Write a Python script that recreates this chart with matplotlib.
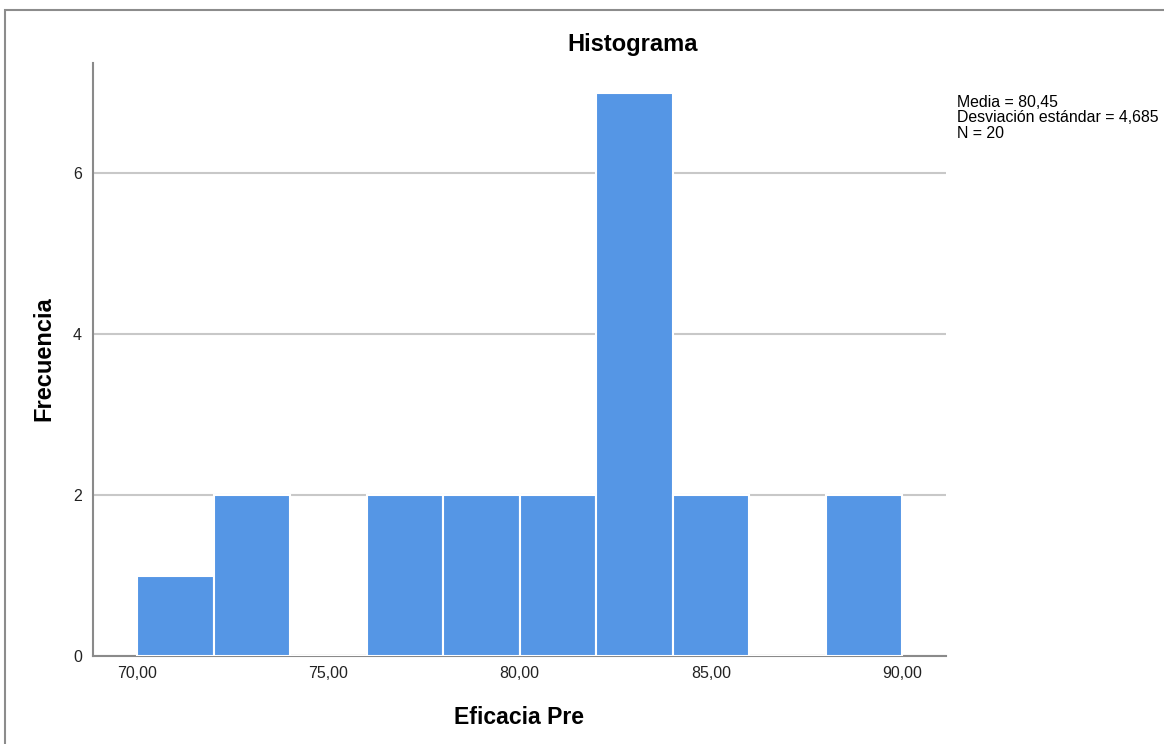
import matplotlib
matplotlib.use('Agg')
import matplotlib.pyplot as plt
from matplotlib.patches import Rectangle

# histogram data (bins of width 2)
bin_edges = [70, 72, 74, 76, 78, 80, 82, 84, 86, 88, 90]
counts = [1, 2, 0, 2, 2, 2, 7, 2, 0, 2]
x_ticks = [70, 75, 80, 85, 90]
x_tick_labels = ["70,00", "75,00", "80,00", "85,00", "90,00"]
y_ticks = [0, 2, 4, 6]
stats_text = "Media = 80,45\nDesviación estándar = 4,685\nN = 20"

plt.rcParams['font.family'] = ['Liberation Sans', 'DejaVu Sans']

fig = plt.figure(figsize=(11.64, 7.44), dpi=100)
ax = fig.add_axes([93 / 1164, 1 - 656 / 744, (946 - 93) / 1164, (656 - 63) / 744])

# frame around the whole chart
fig.patches.append(Rectangle((5 / 1164, -0.05), 1.1, 1 - 10 / 744 + 0.05,
                             transform=fig.transFigure, fill=False,
                             edgecolor='#8c8c8c', linewidth=1.5))

widths = [bin_edges[i + 1] - bin_edges[i] for i in range(len(counts))]
ax.bar(bin_edges[:-1], counts, width=widths, align='edge',
       color='#5596e5', edgecolor='white', linewidth=1.5, zorder=3)

ax.set_xlim(68.84, 91.15)
ax.set_ylim(0, 7.37)
ax.set_xticks(x_ticks)
ax.set_xticklabels(x_tick_labels)
ax.set_yticks(y_ticks)
ax.tick_params(length=0, labelsize=11.5, colors='#222222', pad=7)
ax.tick_params(axis='y', pad=8)

ax.yaxis.grid(True, color='#c8c8c8', linewidth=1.5, zorder=0)
ax.set_axisbelow(True)
for s in ['top', 'right']:
    ax.spines[s].set_visible(False)
for s in ['left', 'bottom']:
    ax.spines[s].set_color('#8a8a8a')
    ax.spines[s].set_linewidth(1.5)

fig.text(633 / 1164, 1 - 45 / 744, "Histograma", ha='center', va='center',
         fontsize=17, fontweight='bold')
fig.text(519 / 1164, 1 - 717 / 744, "Eficacia Pre", ha='center', va='center',
         fontsize=16.6, fontweight='bold')
fig.text(44 / 1164, 1 - 359 / 744, "Frecuencia", ha='center', va='center',
         rotation=90, fontsize=17, fontweight='bold')
fig.text(957 / 1164, 1 - 95 / 744, stats_text, ha='left', va='top',
         fontsize=11.4, linespacing=1.03)

fig.savefig('out.png', dpi=100)
